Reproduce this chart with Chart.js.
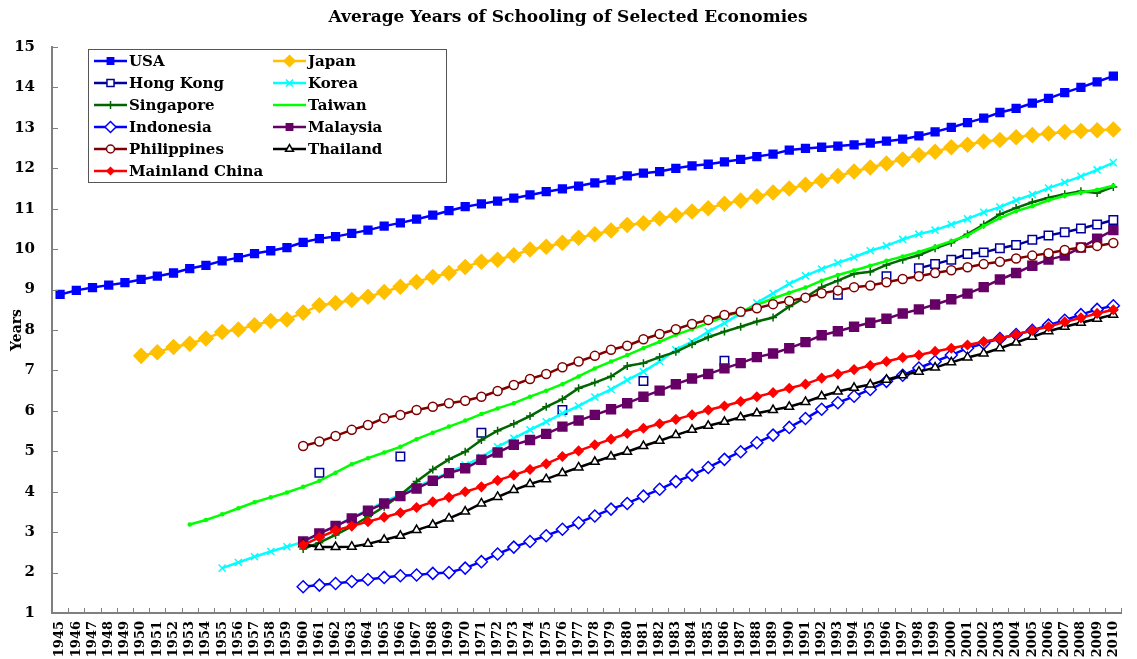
<!DOCTYPE html>
<html>
<head>
<meta charset="utf-8">
<title>Average Years of Schooling of Selected Economies</title>
<script src="https://cdn.jsdelivr.net/npm/chart.js"></script>
<style>
  html, body { margin: 0; padding: 0; background: #fff; }
  #wrap { position: relative; width: 1137px; height: 659px; }
</style>
</head>
<body>
<div id="wrap"><canvas id="schooling"></canvas></div>
<script>
// categories (x axis)
const years = [1945, 1946, 1947, 1948, 1949, 1950, 1951, 1952, 1953, 1954, 1955, 1956, 1957, 1958, 1959,
  1960, 1961, 1962, 1963, 1964, 1965, 1966, 1967, 1968, 1969, 1970, 1971, 1972, 1973, 1974,
  1975, 1976, 1977, 1978, 1979, 1980, 1981, 1982, 1983, 1984, 1985, 1986, 1987, 1988, 1989,
  1990, 1991, 1992, 1993, 1994, 1995, 1996, 1997, 1998, 1999, 2000, 2001, 2002, 2003, 2004,
  2005, 2006, 2007, 2008, 2009, 2010];

// y axis
const yMin = 1;
const yMax = 15;

// series: first year of each series + values
const usaStart = 1945;
const usa = [8.88, 8.98, 9.05, 9.11, 9.17, 9.25, 9.33, 9.41, 9.52, 9.60, 9.71, 9.79, 9.89, 9.96, 10.04,
  10.17, 10.26, 10.31, 10.39, 10.47, 10.57, 10.65, 10.74, 10.84, 10.95,
  11.05, 11.12, 11.19, 11.26, 11.34, 11.42, 11.49, 11.56, 11.64, 11.71,
  11.81, 11.88, 11.92, 12.00, 12.06, 12.10, 12.16, 12.22, 12.29, 12.35,
  12.45, 12.49, 12.52, 12.55, 12.58, 12.62, 12.67, 12.72, 12.80, 12.90,
  13.01, 13.13, 13.24, 13.38, 13.48, 13.61, 13.73, 13.87, 14.00, 14.14, 14.28];

const japanStart = 1950;
const japan = [7.36, 7.45, 7.58, 7.66, 7.79, 7.95, 8.01, 8.12, 8.22, 8.26,
  8.43, 8.61, 8.67, 8.74, 8.82, 8.94, 9.07, 9.19, 9.31, 9.41,
  9.56, 9.69, 9.74, 9.85, 9.99, 10.06, 10.16, 10.28, 10.37, 10.46,
  10.60, 10.64, 10.76, 10.84, 10.93, 11.01, 11.12, 11.20, 11.30, 11.40,
  11.50, 11.59, 11.69, 11.81, 11.92, 12.02, 12.12, 12.22, 12.33, 12.41,
  12.52, 12.58, 12.66, 12.70, 12.77, 12.82, 12.86, 12.90, 12.92, 12.94, 12.96];

const hongKongStart = 1960;
const hongKong = [null, 4.47, null, null, null, null, 4.87, null, null, null,
  null, 5.46, null, null, null, null, 6.02, null, null, null,
  null, 6.74, null, null, null, null, 7.24, null, null, null,
  null, null, null, 8.87, null, null, 9.33, null, 9.53, 9.63,
  9.74, 9.88, 9.92, 10.02, 10.10, 10.23, 10.34, 10.42, 10.51, 10.61, 10.72];

const koreaStart = 1955;
const korea = [2.11, 2.25, 2.39, 2.52, 2.64,
  2.76, 2.95, 3.15, 3.35, 3.55, 3.75, 3.93, 4.12, 4.30, 4.48,
  4.66, 4.85, 5.11, 5.32, 5.53, 5.73, 5.94, 6.12, 6.34, 6.53,
  6.76, 6.97, 7.22, 7.51, 7.71, 7.96, 8.17, 8.41, 8.67, 8.91,
  9.14, 9.34, 9.51, 9.66, 9.80, 9.96, 10.08, 10.24, 10.37, 10.47,
  10.61, 10.75, 10.91, 11.04, 11.21, 11.35, 11.51, 11.65, 11.80, 11.96, 12.14];

const singaporeStart = 1960;
const singapore = [2.58, 2.74, 2.93, 3.14, 3.38, 3.63, 3.92, 4.25, 4.55, 4.80,
  4.99, 5.28, 5.51, 5.68, 5.87, 6.10, 6.29, 6.56, 6.70, 6.85,
  7.11, 7.18, 7.33, 7.46, 7.65, 7.82, 7.96, 8.08, 8.21, 8.31,
  8.58, 8.81, 9.06, 9.22, 9.39, 9.44, 9.61, 9.74, 9.85, 10.02,
  10.16, 10.37, 10.61, 10.86, 11.02, 11.16, 11.27, 11.36, 11.43, 11.39, 11.54];

const taiwanStart = 1953;
const taiwan = [3.19, 3.30, 3.44, 3.59, 3.74, 3.86, 3.98,
  4.12, 4.27, 4.47, 4.68, 4.83, 4.97, 5.11, 5.30, 5.46, 5.61,
  5.76, 5.92, 6.06, 6.19, 6.35, 6.50, 6.66, 6.85, 7.05, 7.22,
  7.38, 7.55, 7.71, 7.88, 8.02, 8.17, 8.33, 8.45, 8.62, 8.78,
  8.92, 9.05, 9.22, 9.36, 9.47, 9.59, 9.71, 9.82, 9.93, 10.06,
  10.20, 10.34, 10.57, 10.77, 10.94, 11.06, 11.21, 11.32, 11.40, 11.47, 11.57];

const indonesiaStart = 1960;
const indonesia = [1.65, 1.69, 1.73, 1.78, 1.83, 1.88, 1.92, 1.94, 1.98, 2.00,
  2.11, 2.27, 2.46, 2.63, 2.77, 2.91, 3.07, 3.23, 3.40, 3.57,
  3.71, 3.89, 4.06, 4.25, 4.41, 4.60, 4.80, 4.99, 5.21, 5.40,
  5.59, 5.81, 6.04, 6.20, 6.36, 6.53, 6.73, 6.88, 7.06, 7.22,
  7.38, 7.55, 7.67, 7.79, 7.89, 7.99, 8.12, 8.24, 8.38, 8.51, 8.60];

const malaysiaStart = 1960;
const malaysia = [2.77, 2.97, 3.15, 3.34, 3.53, 3.71, 3.89, 4.08, 4.27, 4.46,
  4.58, 4.79, 4.97, 5.16, 5.28, 5.43, 5.61, 5.76, 5.90, 6.04,
  6.19, 6.35, 6.50, 6.66, 6.80, 6.91, 7.05, 7.18, 7.33, 7.42,
  7.55, 7.70, 7.87, 7.97, 8.08, 8.18, 8.28, 8.41, 8.51, 8.63,
  8.76, 8.90, 9.06, 9.25, 9.41, 9.59, 9.74, 9.84, 10.04, 10.26, 10.47];

const philippinesStart = 1960;
const philippines = [5.13, 5.24, 5.38, 5.53, 5.65, 5.82, 5.90, 6.02, 6.10, 6.19,
  6.25, 6.35, 6.49, 6.64, 6.79, 6.91, 7.08, 7.22, 7.36, 7.51,
  7.61, 7.77, 7.90, 8.02, 8.15, 8.25, 8.37, 8.45, 8.54, 8.64,
  8.72, 8.80, 8.91, 8.98, 9.06, 9.10, 9.18, 9.26, 9.33, 9.41,
  9.48, 9.55, 9.63, 9.69, 9.77, 9.84, 9.90, 9.98, 10.04, 10.08, 10.15];

const thailandStart = 1960;
const thailand = [2.70, 2.63, 2.63, 2.64, 2.71, 2.81, 2.91, 3.05, 3.18, 3.34,
  3.51, 3.71, 3.87, 4.04, 4.19, 4.31, 4.46, 4.60, 4.74, 4.87,
  4.99, 5.13, 5.26, 5.40, 5.53, 5.63, 5.73, 5.84, 5.94, 6.02,
  6.10, 6.22, 6.36, 6.48, 6.57, 6.65, 6.77, 6.88, 6.97, 7.07,
  7.20, 7.32, 7.42, 7.55, 7.69, 7.83, 7.97, 8.08, 8.18, 8.28, 8.38];

const chinaStart = 1960;
const china = [2.68, 2.87, 3.04, 3.15, 3.26, 3.37, 3.48, 3.61, 3.75, 3.86,
  4.00, 4.12, 4.28, 4.41, 4.55, 4.69, 4.87, 5.01, 5.16, 5.30,
  5.44, 5.57, 5.68, 5.79, 5.90, 6.02, 6.12, 6.23, 6.35, 6.45,
  6.56, 6.66, 6.81, 6.91, 7.02, 7.12, 7.22, 7.32, 7.38, 7.47,
  7.55, 7.63, 7.71, 7.79, 7.89, 7.99, 8.08, 8.20, 8.30, 8.41, 8.50];

// line the series up with the year axis (missing years stay null)
function onYears(start, values) {
  const lead = years.indexOf(start);
  return years.map((y, i) => (i < lead ? null : values[i - lead] ?? null));
}

const FONT = '"DejaVu Serif", "Liberation Serif", serif';
const GREY = '#808080';

// name, data, colour, marker, marker radius, marker fill, legend marker radius
const series = [
  ['USA', onYears(usaStart, usa), '#0000FF', 'rect', 5.5, '#0000FF', 4.5],
  ['Japan', onYears(japanStart, japan), '#FFC000', 'rectRot', 7.2, '#FFC000', 5.5],
  ['Hong Kong', onYears(hongKongStart, hongKong), '#000099', 'rect', 6, '#FFFFFF', 5],
  ['Korea', onYears(koreaStart, korea), '#00FFFF', 'crossRot', 5, '#00FFFF', 5],
  ['Singapore', onYears(singaporeStart, singapore), '#006600', 'cross', 4, '#006600', 4],
  ['Taiwan', onYears(taiwanStart, taiwan), '#00FF00', 'circle', 1.5, '#00FF00', 0],
  ['Indonesia', onYears(indonesiaStart, indonesia), '#0000FF', 'rectRot', 6, '#FFFFFF', 5.5],
  ['Malaysia', onYears(malaysiaStart, malaysia), '#660066', 'rect', 6.3, '#660066', 4.5],
  ['Philippines', onYears(philippinesStart, philippines), '#800000', 'circle', 4.5, '#FFFFFF', 4],
  ['Thailand', onYears(thailandStart, thailand), '#000000', 'triangle', 5, '#FFFFFF', 4.5],
  ['Mainland China', onYears(chinaStart, china), '#FF0000', 'rectRot', 4.5, '#FF0000', 3.5]
];

const datasets = series.map(([label, data, color, style, radius, fill, legendRadius], i) => ({
  label,
  data,
  borderColor: color,
  backgroundColor: fill,
  borderWidth: 2.5,
  pointStyle: style,
  pointRadius: radius,
  pointHoverRadius: radius,
  pointBorderColor: color,
  pointBackgroundColor: fill,
  pointBorderWidth: 1.5,
  legendRadius,
  spanGaps: false,
  tension: 0,
  fill: false,
  order: series.length - i   // later series drawn on top, like the original
}));

// inside tick marks + the two-column boxed legend
const framePlugin = {
  id: 'frame',
  afterDraw(chart) {
    const { ctx, chartArea: area, scales: { x, y } } = chart;
    ctx.save();
    ctx.strokeStyle = GREY;
    ctx.lineWidth = 1;
    const step = (area.right - area.left) / years.length;
    ctx.beginPath();
    for (let i = 1; i <= years.length; i++) {
      const px = Math.round(area.left + i * step) + 0.5;
      ctx.moveTo(px, area.bottom);
      ctx.lineTo(px, area.bottom - 5);
    }
    for (let v = yMin + 1; v <= yMax; v++) {
      const py = Math.round(y.getPixelForValue(v)) + 0.5;
      ctx.moveTo(area.left, py);
      ctx.lineTo(area.left + 6, py);
    }
    ctx.stroke();

    // legend
    const box = { left: 88, top: 49, width: 358, height: 133 };
    ctx.fillStyle = '#FFFFFF';
    ctx.fillRect(box.left, box.top, box.width, box.height);
    ctx.strokeStyle = '#555555';
    ctx.lineWidth = 1;
    ctx.strokeRect(box.left + 0.5, box.top + 0.5, box.width, box.height);

    const cols = [94, 273];
    const sampleLen = 33;
    ctx.font = 'bold 15px ' + FONT;
    ctx.textBaseline = 'middle';
    ctx.textAlign = 'left';
    chart.data.datasets.forEach((ds, i) => {
      const row = Math.floor(i / 2);
      const cx = cols[i % 2];
      const cy = box.top + 12 + row * 22;
      ctx.strokeStyle = ds.borderColor;
      ctx.lineWidth = 2.5;
      ctx.beginPath();
      ctx.moveTo(cx, cy);
      ctx.lineTo(cx + sampleLen, cy);
      ctx.stroke();
      if (ds.legendRadius > 0 && Chart.helpers && Chart.helpers.drawPoint) {
        ctx.fillStyle = ds.pointBackgroundColor;
        ctx.strokeStyle = ds.pointBorderColor;
        ctx.lineWidth = ds.pointBorderWidth;
        Chart.helpers.drawPoint(ctx, {
          pointStyle: ds.pointStyle, radius: ds.legendRadius, rotation: 0, borderWidth: ds.pointBorderWidth
        }, cx + sampleLen / 2, cy);
      }
      ctx.fillStyle = '#000000';
      ctx.fillText(ds.label, cx + sampleLen + 2, cy + 1);
    });
    ctx.restore();
  }
};

new Chart(document.getElementById('schooling'), {
  type: 'line',
  data: { labels: years, datasets },
  plugins: [framePlugin],
  options: {
    responsive: true,
    maintainAspectRatio: false,
    animation: false,
    layout: { padding: { left: 0, right: 1, top: 0, bottom: 0 } },
    plugins: {
      legend: { display: false },
      tooltip: { enabled: false },
      title: {
        display: true,
        text: 'Average Years of Schooling of Selected Economies',
        color: '#000000',
        font: { family: FONT, size: 17, weight: 'bold' },
        padding: { top: 7, bottom: 19.6 }
      }
    },
    scales: {
      x: {
        type: 'category',
        offset: true,
        grid: { display: false, drawTicks: false },
        border: { display: true, color: GREY, width: 2 },
        ticks: {
          autoSkip: false,
          minRotation: 90,
          maxRotation: 90,
          padding: 8,
          color: '#000000',
          font: { family: FONT, size: 13, weight: 'bold' }
        },
        afterFit(scale) { scale.height = 46; }
      },
      y: {
        min: yMin,
        max: yMax,
        grid: { display: false, drawTicks: false },
        border: { display: true, color: GREY, width: 2 },
        ticks: {
          stepSize: 1,
          padding: 17,
          color: '#000000',
          font: { family: FONT, size: 15, weight: 'bold' }
        },
        title: {
          display: true,
          text: 'Years',
          color: '#000000',
          font: { family: FONT, size: 14, weight: 'bold' },
          padding: { top: 9, bottom: 0 }
        },
        afterFit(scale) { scale.width = 52; }
      }
    }
  }
});
</script>
</body>
</html>
